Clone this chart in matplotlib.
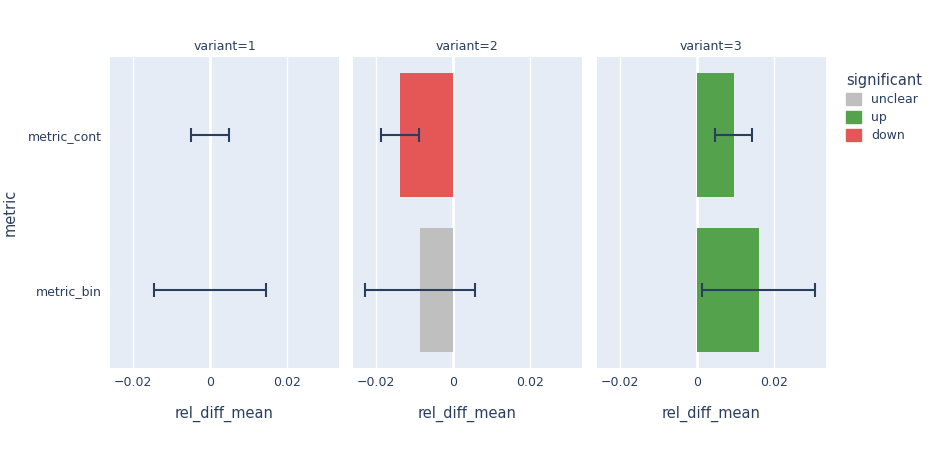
import matplotlib.pyplot as plt
from matplotlib.patches import Patch

metrics = ["metric_cont", "metric_bin"]
variants = [1, 2, 3]
# rel_diff_mean per variant, in metrics order
means = {1: [0.0, 0.0], 2: [-0.0137, -0.0086], 3: [0.0095, 0.0160]}
errs = {1: [0.0049, 0.0146], 2: [0.0049, 0.0144], 3: [0.0049, 0.0147]}
signif = {1: ["unclear", "unclear"], 2: ["down", "unclear"], 3: ["up", "up"]}
colors = {"unclear": "#bfbfbf", "up": "#54a24b", "down": "#e45756"}

txt = "#2a3f5f"
bg = "#e5ecf6"

fig = plt.figure(figsize=(9.42, 4.5), dpi=100)
lefts = [110, 353, 597]
for i, v in enumerate(variants):
    ax = fig.add_axes([lefts[i] / 942, 1 - 368 / 450, 229 / 942, 311 / 450])
    ax.set_facecolor(bg)
    ax.set_axisbelow(True)
    ys = list(range(len(metrics)))
    ax.barh(ys, means[v], height=0.8, color=[colors[s] for s in signif[v]], zorder=2)
    ax.errorbar(means[v], ys, xerr=errs[v], fmt="none", ecolor=txt, elinewidth=1.5,
                capsize=5, capthick=1.5, zorder=3)
    ax.axvline(0, color="white", lw=2, zorder=1)
    ax.set_xlim(-0.026, 0.0335)
    ax.set_ylim(1.5, -0.5)
    ax.set_xticks([-0.02, 0, 0.02])
    ax.set_xticklabels(["\u22120.02", "0", "0.02"])
    ax.grid(axis="x", color="white", lw=1)
    ax.grid(axis="y", visible=False)
    for s in ax.spines.values():
        s.set_visible(False)
    ax.tick_params(length=0, labelsize=9, colors=txt, pad=6)
    ax.set_yticks(ys)
    if i == 0:
        ax.set_yticklabels(metrics)
    else:
        ax.set_yticklabels([])
    ax.set_xlabel("rel_diff_mean", fontsize=10.5, color=txt, labelpad=12)
    ax.set_title(f"variant={v}", fontsize=9, color=txt, pad=5)

fig.text(10 / 942, 1 - 212 / 450, "metric", rotation=90, fontsize=10.5,
         color=txt, ha="center", va="center")

handles = [Patch(color=colors[k]) for k in ["unclear", "up", "down"]]
leg = fig.legend(handles, ["unclear", "up", "down"], loc="upper left",
                 bbox_to_anchor=(835 / 942, 1 - 62 / 450), frameon=False,
                 title="significant", fontsize=9, title_fontsize=10.5,
                 handlelength=1.2, handleheight=1.0, labelspacing=0.4,
                 alignment="left", labelcolor=txt)
leg.get_title().set_color(txt)

fig.savefig("out.png", dpi=100)
